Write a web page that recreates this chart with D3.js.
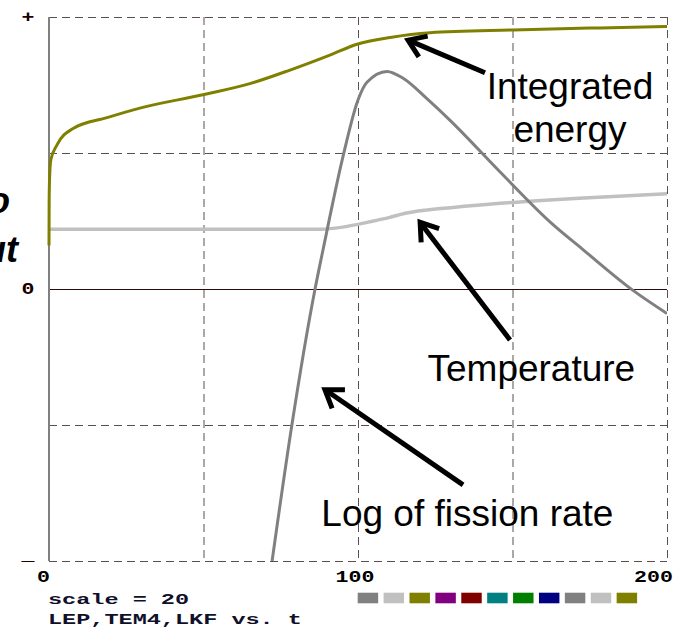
<!DOCTYPE html>
<html>
<head>
<meta charset="utf-8">
<script src="https://cdn.jsdelivr.net/npm/d3@7"></script>
<style>
  html, body { margin: 0; padding: 0; background: #fff; }
  svg { display: block; }
</style>
</head>
<body>
<svg id="chart" width="683" height="629"></svg>
<script>
// ---------- data ----------
const energyT = [0, 0.05, 0.2, 0.6, 2.6, 7.8, 18.8, 29.4, 50.2, 65, 78, 90.9, 99.7, 110.4, 123.3, 150.2, 178.3, 200];
const energyV = [3.2, 6.5, 8.2, 9.5, 10.6, 11.8, 12.6, 13.3, 14.3, 15.1, 16.1, 17.2, 18.0, 18.5, 18.85, 19.05, 19.2, 19.3];

const fissionT = [72.2, 78.6, 86.1, 88.7, 95.1, 100, 102.9, 109.4, 114.6, 122.3, 129.8, 146, 162.3, 172.8, 189, 200];
const fissionV = [-20, -10, 0, 2.9, 9.7, 13.9, 15.2, 16.0, 15.5, 14.0, 12.4, 8.6, 4.9, 2.9, -0.1, -1.8];

const tempT = [0, 88, 95, 100, 105, 110, 115, 122, 130, 146, 162, 173, 200];
const tempV = [4.4, 4.4, 4.55, 4.75, 5.0, 5.25, 5.55, 5.8, 5.98, 6.3, 6.55, 6.7, 7.0];

const xTickValues = [0, 100, 200];
const xTickLabels = ["0", "100", "200"];
const yTickValues = [-20, 0, 20];
const yTickLabels = ["_", "0", "+"];
const gridX = [50, 100, 150];
const gridY = [-10, 10];

const legendColors = ["#808080", "#c0c0c0", "#808000", "#800080", "#800000", "#008080",
                      "#008000", "#000080", "#808080", "#c0c0c0", "#808000"];

const footerLines = ["scale = 20", "LEP,TEM4,LKF vs. t"];

// annotations in data coordinates
const annotLabels = [
  { text: "Integrated", t: 168.6, v: 14.0 },
  { text: "energy", t: 168.6, v: 10.8 },
  { text: "Temperature", t: 156.1, v: -6.8 },
  { text: "Log of fission rate", t: 135.4, v: -17.4 }
];
const arrows = [
  { t0: 141.1, v0: 15.9, t1: 116.2, v1: 18.3 },
  { t0: 149.2, v0: -3.75, t1: 120.1, v1: 4.9 },
  { t0: 134.0, v0: -14.4, t1: 89.3, v1: -7.4 }
];
const sideText = ["o", "ut"];

// ---------- drawing ----------
const svg = d3.select("#chart");
const x = d3.scaleLinear().domain([0, 200]).range([49, 667]);
const y = d3.scaleLinear().domain([-20, 20]).range([561, 17]);

const dash = "8,5";
const gridColor = "#5a5050";

// grid dashed
const g = svg.append("g");
g.selectAll(".gx").data(gridX.concat([200])).enter().append("line")
  .attr("x1", d => x(d) + 0.5).attr("x2", d => x(d) + 0.5)
  .attr("y1", y(20)).attr("y2", y(-20))
  .attr("stroke", gridColor).attr("stroke-width", 1).attr("stroke-dasharray", dash);
g.selectAll(".gy").data(gridY.concat([20, -20])).enter().append("line")
  .attr("x1", x(0)).attr("x2", x(200))
  .attr("y1", d => y(d) + 0.5).attr("y2", d => y(d) + 0.5)
  .attr("stroke", gridColor).attr("stroke-width", 1).attr("stroke-dasharray", dash);
// zero line
g.append("line")
  .attr("x1", x(0)).attr("x2", x(200))
  .attr("y1", y(0) + 0.5).attr("y2", y(0) + 0.5)
  .attr("stroke", "#2a0a0a").attr("stroke-width", 1);
// left axis
g.append("line")
  .attr("x1", x(0)).attr("x2", x(0))
  .attr("y1", y(20)).attr("y2", y(-20))
  .attr("stroke", "#808080").attr("stroke-width", 2);

// series
svg.append("clipPath").attr("id", "clip").append("rect")
  .attr("x", x(0) - 2).attr("y", y(20)).attr("width", x(200) - x(0) + 2).attr("height", y(-20) - y(20));

const line = d3.line().x(d => x(d[0])).y(d => y(d[1])).curve(d3.curveMonotoneX);
const series = [
  { t: tempT, v: tempV, color: "#c0c0c0", w: 3.5 },
  { t: fissionT, v: fissionV, color: "#808080", w: 3 },
  { t: energyT, v: energyV, color: "#808000", w: 3 }
];
const sg = svg.append("g").attr("clip-path", "url(#clip)");
series.forEach(s => {
  sg.append("path")
    .datum(s.t.map((t, i) => [t, s.v[i]]))
    .attr("d", line)
    .attr("fill", "none")
    .attr("stroke", s.color)
    .attr("stroke-width", s.w)
    .attr("stroke-linejoin", "round");
});

// tick labels (monospace, stretched)
const mono = "'Liberation Mono', 'Courier New', monospace";
xTickValues.forEach((v, i) => {
  const anchor = i === 0 ? "start" : (i === xTickValues.length - 1 ? "end" : "middle");
  const off = i === 0 ? -12 : (i === xTickValues.length - 1 ? 6 : -3);
  svg.append("text")
    .attr("transform", `translate(${x(v) + off},582) scale(1.35,1)`)
    .attr("text-anchor", anchor)
    .attr("font-family", mono).attr("font-weight", "bold").attr("font-size", 16)
    .attr("fill", "#000")
    .text(xTickLabels[i]);
});
yTickValues.forEach((v, i) => {
  const lbl = yTickLabels[i];
  const dy = lbl === "_" ? -1 : 5;
  svg.append("text")
    .attr("transform", `translate(28,${y(v) + dy}) scale(1.35,1)`)
    .attr("text-anchor", "middle")
    .attr("font-family", mono).attr("font-weight", "bold").attr("font-size", 16)
    .attr("fill", "#1a0000")
    .text(lbl);
});

// footer text
footerLines.forEach((txt, i) => {
  svg.append("text")
    .attr("transform", `translate(48,${604 + i * 19.5}) scale(1.68,1)`)
    .attr("font-family", mono).attr("font-weight", "bold").attr("font-size", 14)
    .attr("fill", "#10102a")
    .text(txt);
});

// legend swatches
const lx = d3.scaleBand().domain(d3.range(legendColors.length)).range([357.7, 357.7 + 25.4 * legendColors.length]).paddingInner(0.21).paddingOuter(0);
svg.selectAll(".sw").data(legendColors).enter().append("rect")
  .attr("x", (d, i) => lx(i)).attr("y", 592.7)
  .attr("width", lx.bandwidth()).attr("height", 10.6)
  .attr("fill", d => d);

// annotations
const sans = "'Liberation Sans', Arial, sans-serif";
svg.selectAll(".al").data(annotLabels).enter().append("text")
  .attr("x", d => x(d.t)).attr("y", d => y(d.v))
  .attr("text-anchor", "middle")
  .attr("font-family", sans).attr("font-size", 37)
  .attr("fill", "#000")
  .text(d => d.text);

arrows.forEach(a => {
  const x0 = x(a.t0), y0 = y(a.v0), x1 = x(a.t1), y1 = y(a.v1);
  const ang = Math.atan2(y1 - y0, x1 - x0);
  const L = 20, spread = 0.6;
  const p1 = [x1 - L * Math.cos(ang - spread), y1 - L * Math.sin(ang - spread)];
  const p2 = [x1 - L * Math.cos(ang + spread), y1 - L * Math.sin(ang + spread)];
  svg.append("line").attr("x1", x0).attr("y1", y0).attr("x2", x1 - 2 * Math.cos(ang)).attr("y2", y1 - 2 * Math.sin(ang))
    .attr("stroke", "#000").attr("stroke-width", 5);
  svg.append("path")
    .attr("d", `M${p1[0]},${p1[1]} L${x1},${y1} L${p2[0]},${p2[1]}`)
    .attr("fill", "none").attr("stroke", "#000").attr("stroke-width", 5)
    .attr("stroke-linejoin", "miter").attr("stroke-linecap", "butt");
});

// side text, partly outside the left edge as in the reference
svg.append("text").attr("x", 10).attr("y", 213).attr("text-anchor", "end")
  .attr("font-family", sans).attr("font-weight", "bold").attr("font-style", "italic").attr("font-size", 36)
  .attr("fill", "#000").text(sideText[0]);
svg.append("text").attr("x", 18).attr("y", 262).attr("text-anchor", "end")
  .attr("font-family", sans).attr("font-weight", "bold").attr("font-style", "italic").attr("font-size", 36)
  .attr("fill", "#000").text(sideText[1]);
</script>
</body>
</html>
